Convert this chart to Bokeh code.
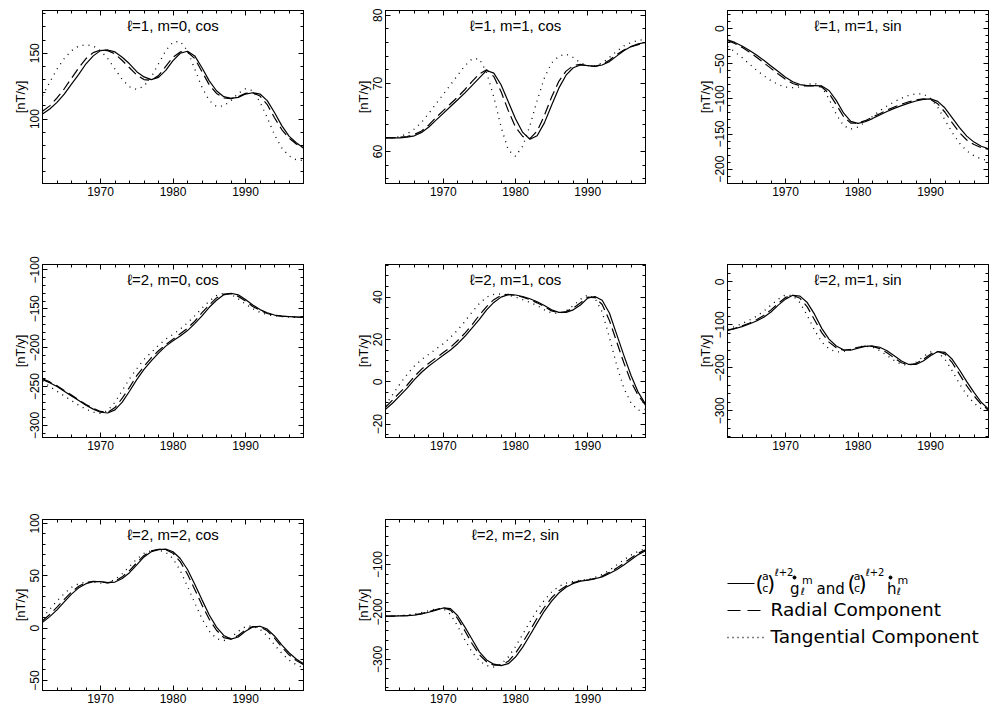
from bokeh.plotting import figure
from bokeh.models import Range1d, LinearAxis, SingleIntervalTicker, Label, CustomJSTickFormatter
from bokeh.layouts import row, column
from bokeh.embed import file_html
from bokeh.resources import INLINE
from bokeh.core.properties import value

years = list(range(1962, 1999))

g10_main = [103.8,107.6,112.7,119,126.6,134,142,148,152,152.5,151,147,142,136,132,130,131.7,137,144.4,150,151.5,148,139,129,121.5,117,115.7,116.5,119,120,119,114,105,95,87,82,78]
g10_rad = [106,110,116,123,131,139,146,150.5,152.5,152,149.5,144.5,139,133.5,130,129.5,133,140,147,151,151,146,136,126,119.5,116,115.5,117,119.5,120,117.5,111,101,92,85.5,81,78]
g10_tan = [118,128,138,146,152,155.5,156.5,155.5,152,146,138,130,124.5,122.5,125,132,142,152,158.5,159,152,138,124,114,109.5,110,114,119.5,123,121.5,113,101,88,78,72,69,68.5]
g11_main = [62.0,62.0,62.0,62.1,62.3,62.8,63.6,64.6,65.6,66.6,67.6,68.6,69.7,70.8,71.9,71.5,69.8,67.3,64.8,62.8,61.8,62.3,64.2,66.8,69.3,71.2,72.3,72.7,72.6,72.5,72.7,73.2,74.0,74.8,75.4,75.8,76.0]
g11_rad = [62.0,62.0,62.1,62.2,62.5,63.0,63.9,65.0,66.0,67.0,68.0,69.1,70.3,71.4,72.0,71.0,68.8,66.0,63.6,62.2,61.9,63.0,65.3,68.0,70.3,71.8,72.6,72.8,72.6,72.5,72.8,73.4,74.2,74.9,75.4,75.7,75.9]
g11_tan = [62.0,62.0,62.2,62.6,63.3,64.3,65.6,67.0,68.4,69.8,71.2,72.6,73.6,73.6,71.6,68.0,63.6,60.2,59.3,60.8,63.8,67.5,70.8,73.0,74.0,74.3,73.8,73.0,72.6,72.6,73.0,73.8,74.7,75.5,76.0,76.3,76.5]
h11_main = [-15.7,-19.5,-24.5,-30.5,-37.5,-45,-53,-61,-69,-75.5,-79.5,-81,-81,-81.5,-88,-102,-120,-132,-134.8,-132.5,-128,-123,-118,-113.5,-109.5,-106,-103,-100.7,-100,-103.5,-113,-127,-141,-153,-161.5,-167.5,-171]
h11_rad = [-16.5,-21,-26.5,-33,-40.5,-48.5,-56.5,-64.5,-72,-78,-81,-81.5,-81.5,-83,-92,-108,-125,-134.5,-134.5,-131,-126,-121,-116,-111.5,-107.5,-104,-101.5,-100,-101,-107,-119,-134,-148,-158.5,-165,-169.5,-172]
h11_tan = [-25,-33,-41,-50,-59,-67,-74,-79.5,-83,-84,-83,-79.5,-77.5,-83,-100,-122,-138,-143,-140,-133,-125,-117,-110,-104,-99,-95,-92.5,-93,-99,-112,-130,-148,-163,-174,-181,-185.5,-188]
g20_main = [-241,-245,-250,-256,-262,-268,-274,-279,-283,-284,-280,-270,-256,-241,-228,-217,-207,-198,-191,-185,-178,-169,-159,-148,-139,-132,-130,-132,-138,-145,-151,-155,-158,-159.5,-160,-160.5,-161]
g20_rad = [-240,-244,-249,-255,-261,-267,-273,-278,-282,-283,-277,-265,-251,-236,-224,-213,-204,-196,-189,-182,-175,-166,-155,-145,-136,-131,-130.5,-134,-140,-147,-152,-156,-158.5,-159.5,-160,-160.5,-161]
g20_tan = [-243,-250,-256,-262,-268,-274,-279,-283,-284.5,-281,-270,-255,-240,-227,-215,-206,-197,-189,-183,-176,-168,-159,-149,-140,-133,-130,-131.5,-137,-144,-150,-154.5,-157.5,-159,-160,-160.5,-161,-161]
g21_main = [-13,-10,-6.5,-3,1,4.5,7.5,10,12.5,15,18,21.5,25.5,29.5,34,37.5,40,41.2,41,40.3,39.2,37.8,36,34,32.8,32.8,34,36.3,39.5,40.3,38.5,32.5,22.5,12.5,3,-5,-10.5]
g21_rad = [-12,-8.5,-5,-1.5,2.5,6,8.8,11.3,13.8,16.3,19.5,23,27,31.5,35.5,38.8,40.8,41.3,40.8,40,38.8,37.3,35.5,33.5,32.6,33.2,34.8,37.3,40,39.8,36.5,29,19,9,0,-6.5,-11]
g21_tan = [-11,-6,-1,3.5,7.5,10.5,13,15.5,18,21,24.5,28.5,33,37,40,41.3,41.5,41,40,38.8,37.5,36,34,32.5,32.3,33.5,36,39,41,39.5,33,21,8,-3,-10,-13.5,-13]
h21_main = [-113,-109,-104,-98,-91,-82,-70,-54,-40,-31,-33,-48,-75,-108,-133,-149,-158,-159,-154,-150,-149,-152,-160,-172,-184,-192,-192,-184,-172,-162,-164,-180,-205,-232,-257,-280,-296]
h21_rad = [-112,-108,-102,-96,-88,-78,-65,-50,-36,-31,-38,-58,-88,-118,-140,-153,-159,-157,-152,-149,-150,-155,-165,-177,-188,-193,-190,-180,-168,-162,-168,-188,-215,-242,-265,-285,-298]
h21_tan = [-110,-104,-97,-89,-80,-68,-54,-40,-30,-32,-48,-78,-112,-140,-156,-163,-162,-157,-151,-149,-152,-160,-171,-183,-192,-194,-187,-174,-163,-164,-180,-207,-237,-263,-282,-295,-300]
g22_main = [5.5,11,17.5,25,32.5,38.5,42.5,44.5,44.5,43.5,44,47.5,53,60.5,68,73,75,75.5,73,66.5,56,42,27,12.5,1,-7,-10.5,-8.5,-3,1,1.8,-1,-7.5,-16,-23.5,-29.5,-34]
g22_rad = [7,13,20,27.5,34.5,40,43.5,44.8,44.2,43.3,44.8,49,55,62.5,69.5,73.8,75.3,75,71.5,63.5,51.5,37,22,8.5,-2,-9,-10.5,-7,-1.5,1.5,1.2,-2.5,-9.5,-18,-25.5,-31,-35]
g22_tan = [10,18,26,33,39,42.5,44,44,43,43.5,46.5,52,59,66,71.5,74,74.5,72.5,66.5,55,40,24,9,-3,-10,-12,-9,-3,1.5,2,-1,-7.5,-16,-24,-30.5,-35,-38]
h22_main = [-208.5,-208.5,-208,-207.5,-206.5,-204,-200.5,-196,-191.5,-193,-208,-232,-258,-284,-301,-310,-313,-309,-295,-274,-249,-223,-198,-177,-160,-148,-140,-135,-133,-130,-126,-119,-111,-101,-90,-79,-71]
h22_rad = [-208.5,-208.5,-208,-207.5,-206,-203.5,-199.5,-195,-191,-196,-214,-240,-267,-290,-305,-312,-312,-304,-287,-264,-239,-213,-190,-170,-155,-145,-138,-134.5,-132.5,-129,-124,-116.5,-107.5,-97,-86,-76,-69]
h22_tan = [-208,-208,-207.5,-206.5,-204.5,-201,-197,-193,-193,-205,-230,-259,-285,-303,-313,-316,-310,-295,-273,-247,-221,-196,-175,-158,-146,-139,-135,-133,-131,-127,-121,-112,-101,-90,-80,-72,-66]

titles = ["ℓ=1, m=0, cos", "ℓ=1, m=1, cos", "ℓ=1, m=1, sin",
          "ℓ=2, m=0, cos", "ℓ=2, m=1, cos", "ℓ=2, m=1, sin",
          "ℓ=2, m=2, cos", "ℓ=2, m=2, sin"]
y_ranges = [(51, 182.5), (55.3, 80.7), (-220.5, 26), (-315.5, -93),
            (-26.3, 55.4), (-362, 40.6), (-59.6, 103.8), (-365.5, -5)]
y_major = [50, 10, 50, 50, 20, 100, 50, 100]
y_minor = [5, 5, 5, 5, 4, 5, 5, 5]
series = [(g10_main, g10_rad, g10_tan), (g11_main, g11_rad, g11_tan), (h11_main, h11_rad, h11_tan),
          (g20_main, g20_rad, g20_tan), (g21_main, g21_rad, g21_tan), (h21_main, h21_rad, h21_tan),
          (g22_main, g22_rad, g22_tan), (h22_main, h22_rad, h22_tan)]
x_span = (1962, 1998)

TICK_FONT = "Liberation Sans"
LF = "DejaVu Sans"

# column geometry: (width, border_left, border_right) -> frames 42-303, 385-645, 727-988
cols = [(343, 42, 40), (343, 42, 41), (303, 41, 1)]
# row geometry: (height, border_top, border_bottom) -> frames 10-183, 264-437, 519-690
rows_g = [(205, 10, 22), (252, 59, 20), (249, 62, 16)]


def style_axis(ax, labels=True):
    ax.axis_line_color = "black"
    ax.axis_line_width = 1
    ax.major_tick_in = 5
    ax.major_tick_out = 0
    ax.minor_tick_in = 3
    ax.minor_tick_out = 0
    ax.major_tick_line_color = "black"
    ax.minor_tick_line_color = "black"
    if labels:
        ax.major_label_text_font = TICK_FONT
        ax.major_label_text_font_size = "12px"
        ax.major_label_text_color = "black"
        ax.major_label_standoff = 3
    else:
        ax.formatter = CustomJSTickFormatter(code="return ''")
        ax.major_label_text_font_size = "0px"
        ax.major_label_standoff = 0


def make_panel(i):
    ci, ri = i % 3, i // 3
    w, bl, br = cols[ci]
    h, bt, bb = rows_g[ri]
    yr = y_ranges[i]
    p = figure(width=w, height=h, x_range=Range1d(*x_span), y_range=Range1d(*yr),
               x_axis_type=None, y_axis_type=None, output_backend="svg",
               toolbar_location=None, min_border_left=bl, min_border_right=br,
               min_border_top=bt, min_border_bottom=bb)
    p.outline_line_color = "black"
    p.background_fill_color = "white"
    p.border_fill_color = "white"
    xt = SingleIntervalTicker(interval=10, num_minor_ticks=5)
    yt = SingleIntervalTicker(interval=y_major[i], num_minor_ticks=y_minor[i])

    xb = LinearAxis(ticker=xt)
    style_axis(xb)
    p.add_layout(xb, "below")
    xa = LinearAxis(ticker=xt)
    style_axis(xa, labels=False)
    p.add_layout(xa, "above")

    yl = LinearAxis(ticker=yt, axis_label="[nT/y]")
    style_axis(yl)
    yl.major_label_orientation = "vertical"
    yl.axis_label_text_font = TICK_FONT
    yl.axis_label_text_font_size = "13px"
    yl.axis_label_text_font_style = "normal"
    yl.axis_label_text_color = "black"
    yl.axis_label_standoff = 0
    p.add_layout(yl, "left")
    yr_ax = LinearAxis(ticker=yt)
    style_axis(yr_ax, labels=False)
    p.add_layout(yr_ax, "right")

    main, rad, tan = series[i]
    p.line(years, tan, line_color="black", line_width=1.3, line_dash="1 5")
    p.line(years, rad, line_color="black", line_width=1.2, line_dash="10 5")
    p.line(years, main, line_color="black", line_width=1.2)

    p.add_layout(Label(x=(x_span[0] + x_span[1]) / 2, y=yr[1] - 0.087 * (yr[1] - yr[0]),
                       text=titles[i], text_align="center", text_baseline="middle",
                       text_font=TICK_FONT, text_font_size="15px", text_color="black"))
    return p


panels = [make_panel(i) for i in range(8)]

# legend: coordinates are page pixels (frame is aligned with the row-3 panel frames)
lw, lbl, _ = cols[2]
lh, lbt, lbb = rows_g[2]
x0 = cols[0][0] + cols[1][0]
frame_top = rows_g[0][0] + rows_g[1][0] + lbt
frame_bot = rows_g[0][0] + rows_g[1][0] + lh - lbb
leg = figure(width=lw, height=lh, x_range=Range1d(x0, x0 + lw), y_range=Range1d(frame_bot, frame_top),
             x_axis_type=None, y_axis_type=None, output_backend="svg",
             toolbar_location=None, min_border_left=0, min_border_right=0,
             min_border_top=lbt, min_border_bottom=lbb)
leg.outline_line_color = None
leg.grid.visible = False

leg.line([727, 754], [583, 583], line_color="black", line_width=1.2)
leg.line([727, 761], [610, 610], line_color="black", line_width=1.2, line_dash="13 7")
leg.line([727, 763], [637, 637], line_color="black", line_width=1.3, line_dash="1 4")
leg.text(x=[770, 770], y=[609, 636], text=["Radial Component", "Tangential Component"],
         text_font=value(LF), text_font_size=value("18.5px"), text_baseline="alphabetic",
         text_color="black")
# (a/c)^(l+2) g_l^m  and  (a/c)^(l+2) h_l^m
leg.text(x=[759, 770.5, 851, 862], y=[583, 583, 583, 583], text=["(", ")", "(", ")"],
         text_font=value(LF), text_font_size=value("21px"), text_align="center",
         text_baseline="alphabetic", text_color="black")
leg.text(x=[764.8, 764.8, 856.5, 856.5], y=[576, 588, 576, 588], text=["a", "c", "a", "c"],
         text_font=value(LF), text_font_size=value("11px"), text_align="center",
         text_baseline="alphabetic", text_color="black")
leg.text(x=[774, 865], y=[572, 572], text=["ℓ+2", "ℓ+2"],
         text_font=value(LF), text_font_size=value("10px"), text_baseline="alphabetic",
         text_color="black")
leg.text(x=[789.5, 816, 886.5], y=[588, 588, 588], text=["g", "and", "h"],
         text_font=value(LF), text_font_size=value("15px"), text_baseline="alphabetic",
         text_color="black")
leg.scatter(x=[794, 890], y=[577, 577], size=3, color="black")
leg.text(x=[801.5, 897], y=[580, 580], text=["m", "m"],
         text_font=value(LF), text_font_size=value("11px"), text_baseline="alphabetic",
         text_color="black")
leg.text(x=[800, 896], y=[591, 591], text=["ℓ", "ℓ"],
         text_font=value(LF), text_font_size=value("10px"), text_baseline="alphabetic",
         text_color="black")

layout = column(row(*panels[0:3]), row(*panels[3:6]), row(panels[6], panels[7], leg))

open("out.html", "w").write(file_html(layout, INLINE))
